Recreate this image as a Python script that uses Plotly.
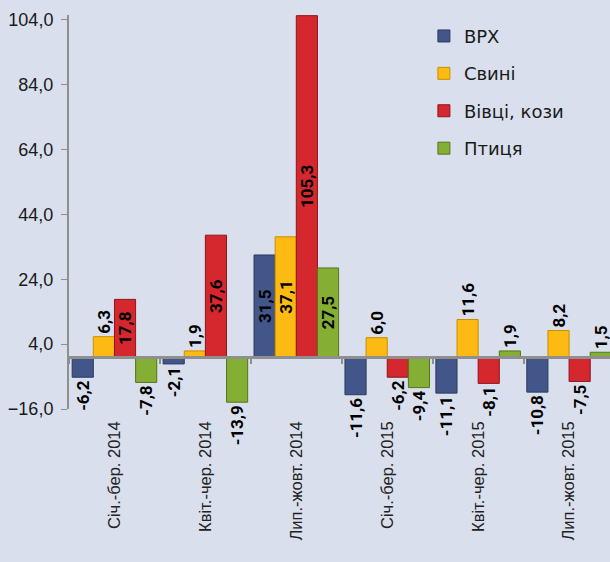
import plotly.graph_objects as go

categories = ["Січ.-бер. 2014", "Квіт.-чер. 2014", "Лип.-жовт. 2014",
              "Січ.-бер. 2015", "Квіт.-чер. 2015", "Лип.-жовт. 2015"]
vrh = [-6.2, -2.1, 31.5, -11.6, -11.1, -10.8]
svyni = [6.3, 1.9, 37.1, 6.0, 11.6, 8.2]
vivtsi = [17.8, 37.6, 105.3, -6.2, -8.1, -7.5]
ptytsia = [-7.8, -13.9, 27.5, -9.4, 1.9, 1.5]
y_tick_vals = [-16, 4, 24, 44, 64, 84, 104]

series = [
    ("ВРХ", vrh, "#42568A", "#2A3A60"),
    ("Свині", svyni, "#FDBA12", "#C98E00"),
    ("Вівці, кози", vivtsi, "#D5282E", "#8E1518"),
    ("Птиця", ptytsia, "#84AE34", "#55751C"),
]

y_min, y_max = -16, 105.5
bg = "#D9DFEC"
axis_col = "#8F8F8F"
W, H = 610, 562
ML, MR, MT, MB = 69, 0, 15, 153
label_size = 17
plot_h = H - MT - MB


def label_position(v):
    txt = f"{v:.1f}"
    bar_px = abs(v) * plot_h / (y_max - y_min)
    txt_px = len(txt) * 0.5 * label_size
    return "inside" if bar_px > txt_px + 4 else "outside"


lab_font = dict(family="Roboto", size=label_size, color="black", weight="bold")

fig = go.Figure()
for name, vals, col, edge in series:
    fig.add_trace(go.Bar(
        x=categories, y=vals, name=name, legendgroup=name,
        marker=dict(color=col, line=dict(color=edge, width=1)),
        texttemplate="%{y:.1f}",
        textposition=[label_position(v) for v in vals],
        insidetextanchor="middle", textangle=-90, constraintext="none",
        textfont=lab_font, insidetextfont=lab_font, outsidetextfont=lab_font,
        cliponaxis=False,
    ))

n = len(categories)
# helper trace carrying the bottom category labels
fig.add_trace(go.Scatter(x=list(range(n)), y=[0] * n, mode="none",
                         xaxis="x2", showlegend=False, hoverinfo="skip"))

zero_pos = (0 - y_min) / (y_max - y_min)
x_range = [-0.5, n - 0.55]

fig.update_layout(
    width=W, height=H,
    margin=dict(l=ML, r=MR, t=MT, b=MB),
    paper_bgcolor=bg, plot_bgcolor=bg,
    separators=", ",
    barmode="group", bargap=0.07, bargroupgap=0,
    showlegend=True,
    legend=dict(x=0.656, y=0.993, xanchor="left", yanchor="top",
                bgcolor="rgba(0,0,0,0)", tracegroupgap=11,
                font=dict(family="DejaVu Sans", size=18, color="#1a1a1a"),
                itemwidth=30),
    xaxis=dict(type="category", anchor="free", position=zero_pos,
               range=x_range, showgrid=False, zeroline=False,
               showline=True, linecolor=axis_col, linewidth=2.5,
               ticks="outside", tickson="boundaries", ticklen=5,
               tickcolor=axis_col, tickwidth=1.5, showticklabels=False),
    xaxis2=dict(overlaying="x", anchor="y", side="bottom", range=x_range,
                showgrid=False, zeroline=False, showline=False, ticks="",
                tickvals=list(range(n)), ticktext=categories,
                tickangle=-90, ticklabelstandoff=8,
                tickfont=dict(family="Liberation Sans", size=16.5, color="#222222")),
    yaxis=dict(range=[y_min, y_max], tickvals=y_tick_vals,
               tickformat=".1f", showgrid=False, zeroline=False,
               showline=True, linecolor=axis_col, linewidth=2,
               ticks="outside", ticklen=6, tickcolor=axis_col,
               ticklabelstandoff=4,
               tickfont=dict(family="Liberation Sans", size=18, color="#1a1a1a")),
)

fig.write_html("out.html", config={"displayModeBar": False},
               post_script="document.body.style.margin='0px';document.body.style.overflow='hidden';")
